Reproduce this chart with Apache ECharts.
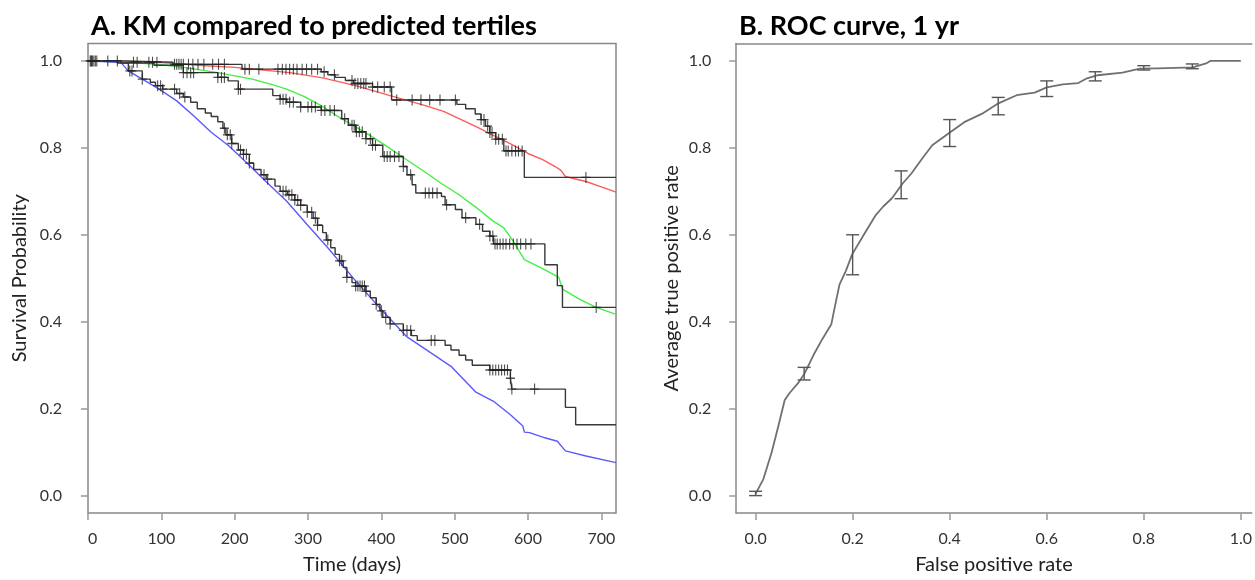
<!DOCTYPE html>
<html>
<head>
<meta charset="utf-8">
<script src="https://cdn.jsdelivr.net/npm/echarts@6/dist/echarts.min.js"></script>
<style>
html,body{margin:0;padding:0;background:#fff;}
#chart{width:1255px;height:580px;}
</style>
</head>
<body>
<div id="chart"></div>
<script>
// ---------- Panel A data: Kaplan-Meier steps [day, survival] ----------
const kmTop = [[0,1.0],[50,0.997],[116,0.992],[210,0.981],[318,0.975],[327,0.968],[337,0.962],[351,0.955],[362,0.948],[388,0.940],[414,0.910],[503,0.900],[515,0.890],[528,0.878],[536,0.865],[542,0.850],[548,0.835],[556,0.820],[567,0.793],[595,0.732],[720,0.732]];
const kmMid = [[0,1.0],[40,0.995],[90,0.990],[130,0.973],[177,0.962],[191,0.954],[205,0.935],[252,0.920],[262,0.912],[271,0.905],[290,0.894],[318,0.886],[346,0.867],[355,0.852],[365,0.837],[379,0.821],[388,0.806],[402,0.780],[430,0.757],[435,0.738],[442,0.715],[447,0.696],[482,0.688],[487,0.669],[501,0.658],[510,0.639],[529,0.624],[538,0.608],[548,0.597],[553,0.579],[623,0.531],[640,0.483],[647,0.433],[720,0.433]];
const kmLow = [[0,1.0],[45,0.995],[55,0.977],[74,0.958],[85,0.951],[92,0.943],[102,0.935],[121,0.925],[130,0.917],[140,0.905],[149,0.890],[160,0.880],[168,0.872],[177,0.860],[184,0.845],[188,0.830],[196,0.810],[205,0.795],[212,0.785],[220,0.765],[226,0.750],[236,0.738],[243,0.728],[255,0.712],[262,0.700],[272,0.692],[282,0.680],[290,0.668],[299,0.652],[307,0.638],[313,0.622],[320,0.605],[325,0.588],[331,0.570],[337,0.555],[343,0.540],[348,0.525],[353,0.502],[360,0.490],[365,0.482],[379,0.470],[385,0.455],[393,0.440],[398,0.425],[402,0.410],[412,0.395],[430,0.380],[441,0.368],[449,0.357],[487,0.346],[495,0.335],[506,0.323],[515,0.312],[524,0.300],[548,0.289],[576,0.270],[578,0.245],[651,0.203],[665,0.163],[720,0.163]];

// censoring times (days) per tertile
const censorTop = [3,6,10,27,40,62,67,83,88,94,118,121,124,127,130,137,143,150,158,170,178,186,214,220,233,259,265,270,275,280,285,292,298,305,313,322,336,360,364,368,372,376,379,388,395,404,412,421,442,454,466,480,501,536,540,545,548,551,556,560,565,570,573,578,583,587,592,679];
const censorMid = [5,12,130,135,140,144,177,182,186,205,208,262,266,270,275,280,290,300,305,310,318,323,330,336,350,360,363,366,370,374,379,385,388,392,404,408,412,418,424,430,440,460,465,470,476,489,515,534,548,552,555,558,562,566,570,575,580,585,590,597,604,693];
const censorLow = [4,8,57,60,74,95,99,102,118,125,132,186,190,194,196,208,212,216,220,240,245,266,270,274,278,282,286,290,299,305,310,313,327,343,346,353,365,368,371,374,377,379,393,400,406,412,430,435,440,468,473,548,552,556,560,564,568,572,576,578,609];

// predicted survival curves per tertile [day, survival]
const predTop = [[0,1.0],[50,0.999],[100,0.996],[150,0.990],[200,0.985],[250,0.977],[275,0.973],[320,0.961],[365,0.943],[412,0.920],[460,0.897],[485,0.884],[506,0.867],[530,0.848],[552,0.829],[575,0.810],[600,0.787],[620,0.773],[637,0.757],[645,0.748],[651,0.734],[680,0.722],[700,0.710],[720,0.698]];
const predMid = [[0,1.0],[40,0.998],[90,0.993],[130,0.985],[177,0.973],[224,0.958],[250,0.946],[271,0.935],[295,0.918],[318,0.897],[340,0.873],[365,0.848],[390,0.823],[412,0.798],[435,0.772],[459,0.745],[482,0.718],[506,0.692],[530,0.662],[552,0.632],[567,0.616],[580,0.585],[595,0.543],[620,0.522],[642,0.502],[647,0.475],[670,0.452],[693,0.433],[720,0.417]];
const predLow = [[0,1.0],[45,0.996],[55,0.977],[74,0.958],[97,0.935],[121,0.908],[144,0.874],[168,0.836],[191,0.806],[215,0.768],[243,0.722],[271,0.677],[299,0.623],[327,0.570],[346,0.532],[365,0.494],[393,0.441],[435,0.365],[459,0.338],[496,0.296],[529,0.238],[553,0.217],[576,0.186],[593,0.160],[595,0.146],[602,0.145],[623,0.133],[640,0.125],[651,0.103],[679,0.091],[720,0.076]];

const timeTicks = [0,100,200,300,400,500,600,700];
const probTicks = [0,0.2,0.4,0.6,0.8,1.0];

// ---------- Panel B data: ROC ----------
const rocFpr = [0,0.002,0.016,0.033,0.046,0.060,0.070,0.087,0.101,0.121,0.138,0.156,0.166,0.173,0.186,0.199,0.223,0.248,0.263,0.281,0.303,0.321,0.343,0.364,0.401,0.430,0.466,0.498,0.538,0.575,0.600,0.633,0.665,0.683,0.705,0.756,0.792,0.828,0.901,0.930,0.937,1.0];
const rocTpr = [0.004,0.006,0.038,0.099,0.156,0.220,0.236,0.258,0.281,0.327,0.361,0.394,0.449,0.486,0.517,0.555,0.600,0.646,0.665,0.684,0.718,0.741,0.775,0.806,0.836,0.859,0.878,0.901,0.921,0.927,0.939,0.946,0.949,0.960,0.967,0.973,0.982,0.983,0.985,0.995,1.0,1.0];
const errX  = [0.0,0.1,0.2,0.3,0.4,0.5,0.6,0.7,0.8,0.9];
const errLo = [0.000,0.266,0.508,0.683,0.803,0.876,0.918,0.954,0.979,0.982];
const errHi = [0.010,0.295,0.600,0.747,0.865,0.916,0.954,0.975,0.989,0.993];
const fprTicks = [0,0.2,0.4,0.6,0.8,1.0];

// ---------- helpers ----------
function survAt(steps, t){
  let v = steps[0][1];
  for (const p of steps){ if (p[0] <= t) v = p[1]; else break; }
  return v;
}
const FONT = 'Lato';
const crossSym = 'path://M5,0L5,12M0,6L10,6';

function censorSeries(times, steps){
  return {
    type:'scatter', xAxisIndex:0, yAxisIndex:0, silent:true,
    symbol: crossSym, symbolSize:[9,11],
    itemStyle:{color:'rgba(0,0,0,0)', borderColor:'#222', borderWidth:1.2},
    data: times.map(t => [t, survAt(steps, t)]), z:4
  };
}
function kmSeries(steps){
  return {type:'line', step:'end', xAxisIndex:0, yAxisIndex:0, showSymbol:false, silent:true,
    lineStyle:{color:'#383838', width:1.4}, data: steps, z:3};
}
function predSeries(pts, color){
  return {type:'line', xAxisIndex:0, yAxisIndex:0, showSymbol:false, silent:true,
    lineStyle:{color:color, width:1.4}, data: pts, z:2};
}

const tickLabel = {fontFamily:FONT, fontSize:16, color:'#333'};
const nameStyle = {fontFamily:FONT, fontSize:20, color:'#222'};
const tickStyle = {show:true, inside:false, length:7, lineStyle:{color:'#999', width:1.5}};
const frameLine = {show:true, onZero:false, lineStyle:{color:'#888', width:1.5}};

// right panel x-range: plot continues past the page edge
const rocXMin = -0.04, rocXMax = 1.0225;

const option = {
  backgroundColor:'#fff',
  animation:false,
  title:[
    {text:'A. KM compared to predicted tertiles', left:86, top:8,
     textStyle:{fontFamily:FONT, fontSize:27, fontWeight:'bold', color:'#000'}},
    {text:'B. ROC curve, 1 yr', left:734, top:8,
     textStyle:{fontFamily:FONT, fontSize:27, fontWeight:'bold', color:'#000'}}
  ],
  grid:[
    {left:88, top:43.5, width:528, height:474, show:true, borderColor:'#888', borderWidth:1.5, backgroundColor:'transparent'},
    {left:736.2, top:43.5, right:0, height:474, show:false}
  ],
  xAxis:[
    {type:'value', gridIndex:0, min:0, max:720,
     axisLine:{show:false, onZero:false}, splitLine:{show:false},
     axisTick:Object.assign({customValues:timeTicks}, tickStyle),
     axisLabel:Object.assign({margin:18, customValues:timeTicks, alignMinLabel:'left', formatter:v=>String(v)}, tickLabel),
     name:'Time (days)', nameLocation:'middle', nameGap:42, nameTextStyle:nameStyle},
    {type:'value', gridIndex:1, min:rocXMin, max:rocXMax,
     axisLine:frameLine, splitLine:{show:false},
     axisTick:Object.assign({customValues:fprTicks}, tickStyle),
     axisLabel:Object.assign({margin:18, customValues:fprTicks, formatter:v=>v.toFixed(1)}, tickLabel),
     name:'False positive rate', nameLocation:'middle', nameGap:42, nameTextStyle:nameStyle},
    {type:'value', gridIndex:1, position:'top', min:rocXMin, max:rocXMax,
     axisLine:frameLine, splitLine:{show:false}, axisTick:{show:false}, axisLabel:{show:false}}
  ],
  yAxis:[
    {type:'value', gridIndex:0, min:-0.04, max:1.04,
     axisLine:{show:false, onZero:false}, splitLine:{show:false},
     axisTick:Object.assign({customValues:probTicks}, tickStyle),
     axisLabel:Object.assign({margin:26, customValues:probTicks, formatter:v=>v.toFixed(1)}, tickLabel),
     name:'Survival Probability', nameLocation:'middle', nameGap:58, nameTextStyle:nameStyle},
    {type:'value', gridIndex:1, min:-0.04, max:1.04,
     axisLine:frameLine, splitLine:{show:false},
     axisTick:Object.assign({customValues:probTicks}, tickStyle),
     axisLabel:Object.assign({margin:25, customValues:probTicks, formatter:v=>v.toFixed(1)}, tickLabel),
     name:'Average true positive rate', nameLocation:'middle', nameGap:55, nameTextStyle:nameStyle}
  ],
  series:[
    predSeries(predTop, '#ff5a5a'),
    predSeries(predMid, '#44ee44'),
    predSeries(predLow, '#5a5aff'),
    kmSeries(kmTop), kmSeries(kmMid), kmSeries(kmLow),
    censorSeries(censorTop, kmTop), censorSeries(censorMid, kmMid), censorSeries(censorLow, kmLow),
    {type:'line', xAxisIndex:1, yAxisIndex:1, showSymbol:false, silent:true,
     lineStyle:{color:'#707070', width:1.8},
     data: rocFpr.map((x,i)=>[x, rocTpr[i]]), z:2},
    {type:'custom', xAxisIndex:1, yAxisIndex:1, silent:true, z:3,
     data: errX.map((x,i)=>[x, errLo[i], errHi[i]]),
     renderItem:function(params, api){
       const x = api.value(0);
       const lo = api.coord([x, api.value(1)]);
       const hi = api.coord([x, api.value(2)]);
       const w = 6.5;
       const st = {stroke:'#555', lineWidth:1.4};
       return {type:'group', children:[
         {type:'line', shape:{x1:lo[0], y1:lo[1], x2:hi[0], y2:hi[1]}, style:st},
         {type:'line', shape:{x1:hi[0]-w, y1:hi[1], x2:hi[0]+w, y2:hi[1]}, style:st},
         {type:'line', shape:{x1:lo[0]-w, y1:lo[1], x2:lo[0]+w, y2:lo[1]}, style:st}
       ]};
     }}
  ]
};
const chart = echarts.init(document.getElementById('chart'));
chart.setOption(option);
</script>
</body>
</html>
